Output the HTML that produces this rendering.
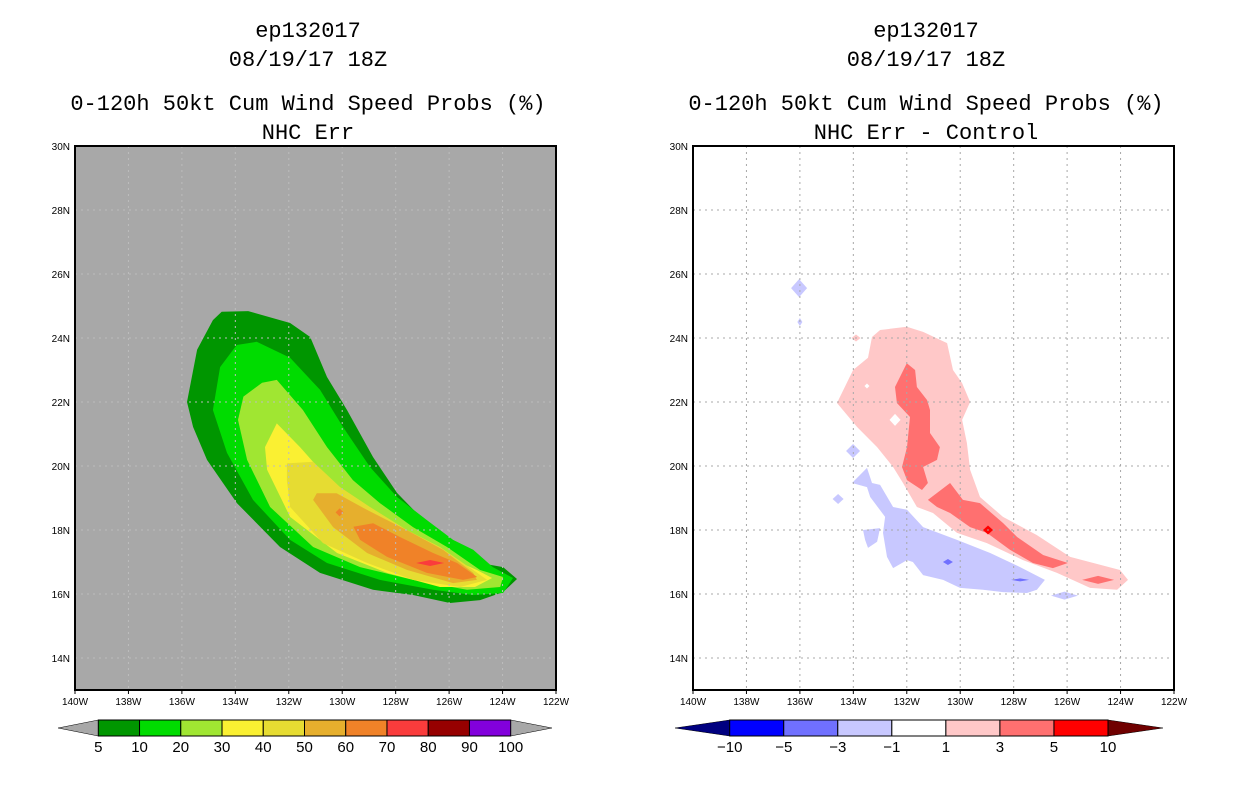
<!DOCTYPE html>
<html><head><meta charset="utf-8"><style>
body{margin:0;background:#fff;width:1236px;height:800px;overflow:hidden}
svg{display:block}
text{font-family:"Liberation Sans",sans-serif}
text.ttl{font-family:"Liberation Mono",monospace}
</style></head><body>
<svg id="s" width="1236" height="800"></svg>
<script>
// ---- data (lon W, lat N) ----
const lvl5 = [[134.51,24.82],[133.52,24.84],[131.95,24.47],[131.2,24.03],[130.57,22.78],[129.82,21.75],[128.85,20.28],[127.95,19.16],[126.6,18.0],[125.59,17.44],[124.84,16.97],[123.98,16.84],[123.46,16.47],[123.98,16.06],[124.84,15.81],[125.97,15.72],[127.35,15.97],[128.85,16.13],[130.83,16.66],[132.33,17.47],[133.94,18.84],[135.06,20.19],[135.58,21.22],[135.81,22.0],[135.43,23.63],[134.84,24.56]];
const lvl10 = [[133.95,23.78],[133.2,23.88],[131.95,23.38],[130.83,22.38],[129.97,21.22],[128.96,19.97],[127.95,19.03],[126.83,18.31],[125.85,17.69],[125.1,17.38],[124.36,16.84],[123.61,16.5],[123.98,16.03],[125.1,15.97],[126.6,16.13],[128.59,16.44],[130.57,16.97],[131.95,17.69],[133.34,18.94],[134.31,20.41],[134.84,21.75],[134.57,23.09]];
const lvl20 = [[133.7,22.17],[133.0,22.6],[132.45,22.69],[131.47,21.75],[130.57,20.59],[129.6,19.56],[128.59,18.84],[127.35,18.09],[126.08,17.47],[124.84,16.75],[123.98,16.53],[124.09,16.22],[125.33,16.13],[127.35,16.44],[129.33,16.84],[131.09,17.47],[132.7,18.72],[133.56,20.19],[133.9,21.44]];
const lvl30 = [[132.45,21.33],[131.58,20.59],[130.72,19.78],[129.71,18.94],[128.59,18.31],[127.35,17.69],[126.08,17.16],[124.96,16.75],[124.39,16.5],[125.03,16.22],[126.34,16.22],[128.32,16.66],[130.19,17.28],[131.95,18.41],[132.81,19.88],[132.89,20.59]];
const lvl40 = [[132.07,20.08],[131.09,20.13],[130.08,19.34],[128.96,18.72],[127.58,18.0],[126.34,17.47],[125.1,16.75],[124.58,16.44],[125.59,16.22],[127.35,16.44],[129.07,16.97],[130.72,17.59],[131.95,18.72],[132.07,19.56]];
const lvl50 = [[130.95,19.15],[130.21,19.15],[129.08,18.63],[127.59,18.0],[126.23,17.38],[125.1,16.66],[124.96,16.44],[125.85,16.34],[127.57,16.75],[129.07,17.28],[130.34,18.09],[131.09,18.94]];
const lvl60 = [[129.58,18.1],[128.84,18.21],[127.84,17.78],[126.6,17.28],[125.7,16.97],[124.95,16.53],[125.48,16.44],[126.83,16.66],[128.32,17.16],[129.33,17.69]];
const lvl60spot = [130.1,18.55];
const lvl70spot = [126.71,16.97];
// difference field
const pos1 = [[133.0,24.25],[132.0,24.35],[131.39,24.19],[130.49,23.84],[130.27,23.0],[129.93,22.59],[129.63,22.0],[129.93,21.44],[129.75,20.72],[129.63,19.88],[129.26,19.03],[128.4,18.41],[127.13,17.84],[125.89,17.16],[124.02,16.75],[123.72,16.44],[124.13,16.13],[125.14,16.19],[126.38,16.66],[127.65,17.06],[129.0,17.59],[130.12,17.91],[131.02,18.53],[131.62,18.72],[132.14,19.47],[132.51,19.97],[133.11,20.59],[133.86,21.22],[134.61,21.97],[134.01,23.0],[133.45,23.38],[133.3,24.03]];
const pos3a = [[132.0,23.21],[131.69,23.0],[131.62,22.47],[131.24,22.06],[131.13,21.75],[131.13,21.03],[130.76,20.59],[130.87,20.19],[131.39,19.97],[131.21,19.47],[131.43,19.25],[131.99,19.56],[132.18,19.97],[131.99,20.59],[131.88,21.53],[132.37,21.97],[132.44,22.47],[132.18,22.91]];
const pos3b = [[131.21,18.94],[130.38,19.47],[129.9,18.94],[129.26,18.84],[128.4,18.22],[127.87,17.78],[126.9,17.22],[125.97,16.97],[126.53,16.81],[127.28,16.97],[128.14,17.38],[129.0,17.91],[129.63,18.09],[130.38,18.53],[130.87,18.72]];
const pos3spot = [124.84,16.44];
const pos5spot = [128.96,18.0];
const pos1spot = [133.9,24.0];
const holes = [[132.44,21.44],[133.49,22.5]];
const neg1 = [[133.49,19.94],[133.3,19.47],[133.0,19.41],[132.51,18.72],[131.99,18.63],[131.39,18.09],[130.12,17.69],[128.88,17.28],[127.76,16.84],[126.83,16.44],[127.13,16.13],[127.5,16.03],[128.4,16.06],[129.15,16.13],[130.01,16.19],[130.64,16.44],[131.39,16.59],[131.77,17.0],[131.99,17.06],[132.51,16.81],[132.74,17.16],[132.89,17.91],[132.81,18.41],[133.37,19.03],[133.49,19.34],[134.05,19.47]];
const neg1b = [[133.64,18.0],[133.0,18.06],[133.11,17.63],[133.45,17.44],[133.56,17.69]];
const neg1spots = [[136.03,25.56],[136.0,24.5],[134.01,20.47],[134.57,18.97],[126.1,15.95]];
const neg3spots = [[130.46,17.0],[127.76,16.44]];
const lonTicks = [140,138,136,134,132,130,128,126,124,122];
const latTicks = [30,28,26,24,22,20,18,16,14];
const leftLevels = ["5","10","20","30","40","50","60","70","80","90","100"];
const rightLevels = ["−10","−5","−3","−1","1","3","5","10"];

const NS='http://www.w3.org/2000/svg';
const svg=document.getElementById('s');
function el(tag,attrs,parent){const e=document.createElementNS(NS,tag);for(const k in attrs)e.setAttribute(k,attrs[k]);(parent||svg).appendChild(e);return e;}
function mkX(x0){return lon=>x0+(140-lon)*(481/18);}
const yS=lat=>146+(30-lat)*32;
function poly(pts,fx,fill,g,name){const p=el('polygon',{points:pts.map(q=>fx(q[0]).toFixed(1)+','+yS(q[1]).toFixed(1)).join(' '),fill:fill},g);

return p;}
function spot(c,fx,w,h,fill,g,name){const x=fx(c[0]),y=yS(c[1]);const p=el('polygon',{points:`${x-w/2},${y} ${x},${y-h/2} ${x+w/2},${y} ${x},${y+h/2}`,fill:fill},g);

}
function text(x,y,s,size,anchor,name,g,cls){const t=el('text',{x:x,y:y,'font-size':size,'text-anchor':anchor||'middle',fill:'#000'},g);t.textContent=s;
if(cls)t.setAttribute('class',cls);

return t;}

function panel(x0,bg,sub,cx,id){
  const fx=mkX(x0);
  const g=el('g',{});
  
  
  text(cx,37,'ep132017',22,'middle','title-storm',g,'ttl');
  text(cx,66,'08/19/17 18Z',22,'middle','title-date',g,'ttl');
  text(cx,110,'0-120h 50kt Cum Wind Speed Probs (%)',22,'middle','title-main',g,'ttl');
  text(cx,139,sub,22,'middle','title-sub',g,'ttl');
  const r=el('rect',{x:x0,y:146,width:481,height:544,fill:bg},g);
  
  
  const dg=el('g',{},g);
  return {fx,g,dg};
}
function frame(P,x0,gridColor){
  const fx=P.fx,g=P.g;
  lonTicks.forEach(l=>{const x=fx(l);
    if(l!==140&&l!==122){const ln=el('line',{x1:x,y1:146,x2:x,y2:690,stroke:gridColor,'stroke-width':1,'stroke-dasharray':'2,4'},g);}
    el('line',{x1:x,y1:690,x2:x,y2:694,stroke:'#000'},g);
    text(x,705,l+'W',10,'middle','x-tick-label',g);});
  latTicks.forEach(l=>{const y=yS(l);
    if(l!==30){const ln=el('line',{x1:x0,y1:y,x2:x0+481,y2:y,stroke:gridColor,'stroke-width':1,'stroke-dasharray':'2,4'},g);}
    text(x0-5,y+4,l+'N',10,'end','y-tick-label',g);});
  const b=el('rect',{x:x0,y:146,width:481,height:544,fill:'none',stroke:'#000','stroke-width':2},g);
  
  
}
// Left panel
const L=panel(75,'#a8a8a8','NHC Err',308,'left');
const lc=['#009600','#00dc00','#a0e632','#faf032','#e6dc32','#e6af2d','#f08228','#fa3c3c','#960000','#8200dc'];
[lvl5,lvl10,lvl20,lvl30,lvl40,lvl50,lvl60].forEach((p,i)=>poly(p,L.fx,lc[i],L.dg,'contour-'+leftLevels[i]+'pct'));
spot(lvl60spot,L.fx,8,8,lc[6],L.dg,'contour-60pct-spot');
spot(lvl70spot,L.fx,28,6,lc[7],L.dg,'contour-70pct');
frame(L,75,'#bdbdbd');
// Right panel
const R=panel(693,'#ffffff','NHC Err - Control',926,'right');
poly(pos1,R.fx,'#ffc8c8',R.dg,'diff-pos-1');
holes.forEach((h,i)=>spot(h,R.fx,i?5:11,i?5:12,'#ffffff',R.dg,'diff-hole'));
spot(pos1spot,R.fx,9,7,'#ffc8c8',R.dg,'diff-pos-1-spot');
poly(pos3a,R.fx,'#ff7070',R.dg,'diff-pos-3-north');
poly(pos3b,R.fx,'#ff7070',R.dg,'diff-pos-3-south');
spot(pos3spot,R.fx,32,8,'#ff7070',R.dg,'diff-pos-3-spot');
spot(pos5spot,R.fx,10,9,'#ff0000',R.dg,'diff-pos-5-spot');
poly(neg1,R.fx,'#c8c8ff',R.dg,'diff-neg-1');
poly(neg1b,R.fx,'#c8c8ff',R.dg,'diff-neg-1-blob');
const nsz=[[16,18],[5,8],[14,14],[11,10],[27,8]];
neg1spots.forEach((c,i)=>spot(c,R.fx,nsz[i][0],nsz[i][1],'#c8c8ff',R.dg,'diff-neg-1-spot'));
spot(neg3spots[0],R.fx,10,6,'#7070ff',R.dg,'diff-neg-3-spot');
spot(neg3spots[1],R.fx,18,3,'#7070ff',R.dg,'diff-neg-3-spot');
frame(R,693,'#a8a8a8');

// colorbars
function colorbar(xs,xe,tipL,tipR,cols,endL,endR,labels,name){
  const g=el('g',{});
  
  
  const y0=720,y1=736,ym=728,w=(xe-xs)/cols.length;
  el('polygon',{points:`${tipL},${ym} ${xs},${y0} ${xs},${y1}`,fill:endL,stroke:'#000','stroke-width':0.5},g);
  el('polygon',{points:`${tipR},${ym} ${xe},${y0} ${xe},${y1}`,fill:endR,stroke:'#000','stroke-width':0.5},g);
  cols.forEach((c,i)=>{const r=el('rect',{x:xs+i*w,y:y0,width:w,height:y1-y0,fill:c,stroke:'#000','stroke-width':1},g);
    
    });
  labels.forEach((s,i)=>text(xs+i*w,752,s,15,'middle','colorbar-label',g));
}
colorbar(98.3,510.7,58,552,lc,'#a8a8a8','#a8a8a8',leftLevels,'left-colorbar');
colorbar(729.7,1108,675,1163,['#0000ff','#7070ff','#c8c8ff','#ffffff','#ffc8c8','#ff7070','#ff0000'],'#000080','#700000',rightLevels,'right-colorbar');
</script>
</body></html>
